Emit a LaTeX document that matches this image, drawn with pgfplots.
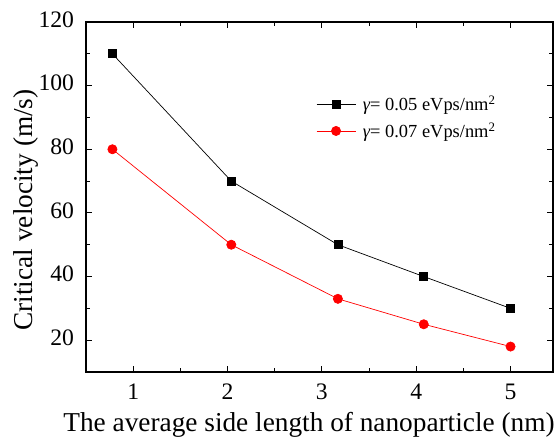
\documentclass[border=0pt]{standalone}
\usepackage{pgfplots}
\pgfplotsset{compat=1.18}
\usepackage{fontspec}
\setmainfont{Liberation Serif}
\begin{document}
\begin{tikzpicture}
\path[use as bounding box] (0bp,0bp) rectangle (557bp,437bp);
\begin{axis}[
  at={(86bp,65bp)}, anchor=south west,
  scale only axis,
  width=467bp, height=350bp,
  xmin=0.5, xmax=5.45,
  ymin=10, ymax=120,
  xtick={1,2,3,4,5},
  xticklabels={1,2,3,4,5},
  ytick={20,40,60,80,100,120},
  yticklabels={20,40,60,80,100,120},
  minor x tick num=1,
  minor y tick num=1,
  tick align=inside,
  major tick length=6bp,
  minor tick length=4bp,
  axis line style={line width=1.4bp},
  every tick/.style={black, line width=1bp},
  tick label style={font=\rmfamily\fontsize{23.7}{26}\selectfont},
  xticklabel style={anchor=base, yshift=-28bp},
  yticklabel style={anchor=base east, xshift=-8.5bp, yshift=-5.3bp},
  xlabel={The average side length of nanoparticle (nm)},
  ylabel={Critical velocity (m/s)},
  label style={font=\rmfamily\fontsize{27.4}{30}\selectfont},
  xlabel style={at={(axis description cs:0.4775,-0.1706)}, anchor=base},
  ylabel style={at={(axis description cs:-0.1135,0.463)}, anchor=base},
  legend cell align=left,
  legend style={draw=none, fill=none, font=\rmfamily\fontsize{18.5}{21}\selectfont,
    inner sep=0pt, nodes={inner sep=0pt},
    at={(axis description cs:0.4925,0.789)}, anchor=north west,
    row sep=10.5bp, column sep=7bp},
  legend image code/.code={
    \draw[#1] (0bp,0bp) -- (39bp,0bp);
    \draw[#1, only marks] plot coordinates {(19.5bp,0bp)};
  },
]
\addplot[black, line width=0.7bp, mark=square*, mark size=4bp, mark options={solid, fill=black}]
  coordinates {(0.78,110) (2.04,70) (3.17,50) (4.08,40) (5.0,30)};
\addlegendentry{{\itshape γ}= 0.05 eVps/nm\textsuperscript{2}}
\addplot[red, line width=0.7bp, mark=*, mark size=4.6bp, mark options={solid, fill=red}]
  coordinates {(0.78,80) (2.04,50) (3.17,33) (4.08,25) (5.0,18)};
\addlegendentry{{\itshape γ}= 0.07 eVps/nm\textsuperscript{2}}
\end{axis}
\end{tikzpicture}
\end{document}
